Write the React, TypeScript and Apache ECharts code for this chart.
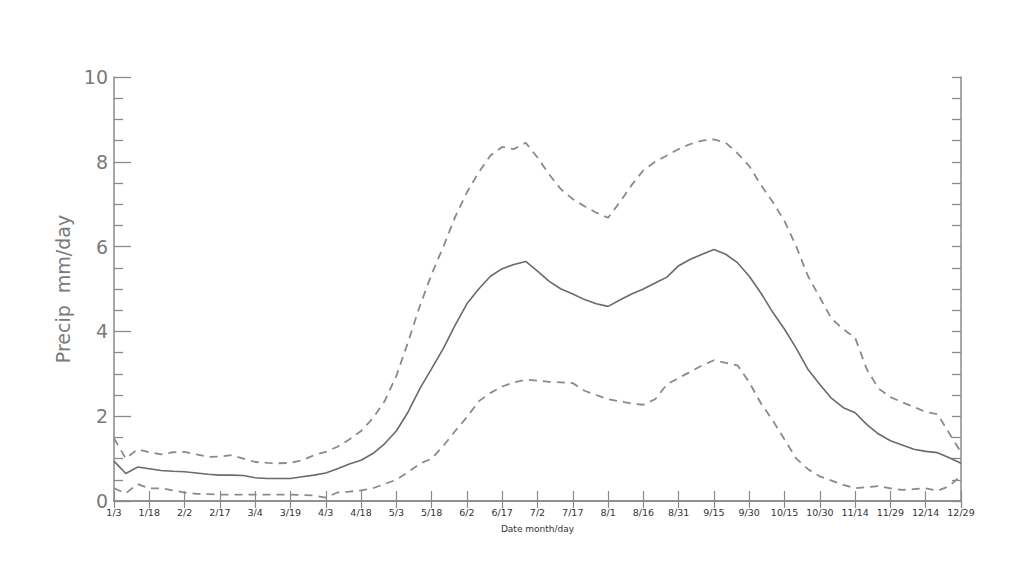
import React, { useEffect, useRef } from "react";
import * as echarts from "echarts";

// Tick labels (every 3rd pentad, pentad centre dates)
const tickLabels = [
  "1/3", "1/18", "2/2", "2/17", "3/4", "3/19", "4/3", "4/18", "5/3", "5/18",
  "6/2", "6/17", "7/2", "7/17", "8/1", "8/16", "8/31", "9/15", "9/30", "10/15",
  "10/30", "11/14", "11/29", "12/14", "12/29",
];

// Mean pentad precipitation (mm/day), 73 pentads
const meanPrecip = [
  0.94, 0.65, 0.8, 0.76, 0.72, 0.7, 0.69, 0.66, 0.63, 0.61,
  0.61, 0.6, 0.55, 0.53, 0.53, 0.53, 0.57, 0.61, 0.66, 0.76,
  0.87, 0.96, 1.12, 1.35, 1.65, 2.1, 2.65, 3.12, 3.6, 4.15,
  4.65, 5.0, 5.3, 5.48, 5.58, 5.65, 5.42, 5.18, 5.0, 4.88,
  4.75, 4.65, 4.59, 4.74, 4.88, 5.0, 5.14, 5.28, 5.55, 5.7,
  5.82, 5.93, 5.82, 5.62, 5.3, 4.9, 4.45, 4.05, 3.6, 3.1,
  2.75, 2.42, 2.2, 2.08, 1.8, 1.58, 1.42, 1.32, 1.22, 1.17,
  1.14, 1.02, 0.89,
];

// Upper bound (dashed)
const upperPrecip = [
  1.48, 1.0, 1.22, 1.15, 1.1, 1.15, 1.16, 1.1, 1.04, 1.05,
  1.08, 1.0, 0.92, 0.9, 0.89, 0.9, 0.96, 1.08, 1.16, 1.28,
  1.45, 1.65, 1.95, 2.35, 2.95, 3.75, 4.6, 5.35, 6.0, 6.7,
  7.28, 7.75, 8.15, 8.35, 8.3, 8.45, 8.1, 7.7, 7.35, 7.12,
  6.95, 6.8, 6.68, 7.05, 7.45, 7.8, 8.0, 8.15, 8.3, 8.42,
  8.5, 8.53, 8.45, 8.2, 7.9, 7.45, 7.05, 6.6, 6.0, 5.3,
  4.8, 4.3, 4.05, 3.85, 3.1, 2.65, 2.45, 2.33, 2.22, 2.1,
  2.05, 1.6, 1.15,
];

// Lower bound (dashed)
const lowerPrecip = [
  0.3, 0.18, 0.4, 0.3, 0.3, 0.25, 0.2, 0.17, 0.16, 0.15,
  0.15, 0.15, 0.15, 0.15, 0.15, 0.15, 0.14, 0.13, 0.08, 0.2,
  0.22, 0.25, 0.3, 0.4, 0.5, 0.68, 0.88, 1.0, 1.3, 1.65,
  1.98, 2.35, 2.55, 2.7, 2.8, 2.86, 2.84, 2.81, 2.8, 2.78,
  2.6, 2.5, 2.4, 2.35, 2.3, 2.27, 2.4, 2.75, 2.9, 3.05,
  3.2, 3.32, 3.26, 3.2, 2.8, 2.3, 1.9, 1.45, 1.0, 0.75,
  0.58, 0.48, 0.38, 0.3, 0.33, 0.35, 0.3, 0.26, 0.28, 0.3,
  0.24, 0.35, 0.6,
];

const pentads = meanPrecip.map((_, i) => "P" + (i + 1));

export default function App() {
  const ref = useRef<HTMLDivElement>(null);
  useEffect(() => {
    document.body.style.margin = "0";
    if (!ref.current) return;
    const chart = echarts.init(ref.current, undefined, { renderer: "svg" });
    const axisColor = "#8a8a8a";
    const labelFmt = (_v: string, idx: number) =>
      idx % 3 === 0 ? tickLabels[idx / 3] : "";
    chart.setOption({
      animation: false,
      backgroundColor: "#ffffff",
      grid: { left: 114, right: 63, top: 77, bottom: 75 },
      xAxis: [
        {
          type: "category",
          data: pentads,
          boundaryGap: false,
          position: "bottom",
          name: "Date month/day",
          nameLocation: "middle",
          nameGap: 23,
          nameTextStyle: { fontSize: 9, color: "#333", fontFamily: "DejaVu Sans" },
          axisLine: { lineStyle: { color: axisColor, width: 1.5 } },
          axisTick: { inside: true, length: 10, interval: 2, lineStyle: { color: axisColor, width: 1.2 } },
          axisLabel: {
            interval: 2,
            formatter: labelFmt,
            fontSize: 9.5,
            color: "#333",
            margin: 6,
            fontFamily: "DejaVu Sans",
          },
          splitLine: { show: false },
        },
        {
          type: "category",
          data: pentads,
          boundaryGap: false,
          position: "top",
          axisLine: { lineStyle: { color: axisColor, width: 1.5 } },
          axisTick: { inside: true, length: 7, interval: 2, lineStyle: { color: axisColor, width: 1.2 } },
          axisLabel: { show: false },
          splitLine: { show: false },
        },
      ],
      yAxis: [
        {
          type: "value",
          min: 0,
          max: 10,
          interval: 2,
          position: "left",
          name: "Precip  mm/day",
          nameLocation: "middle",
          nameGap: 40,
          nameTextStyle: { fontSize: 19, color: "#7a7a7a", fontFamily: "DejaVu Sans" },
          axisLine: { show: true, lineStyle: { color: axisColor, width: 1.5 } },
          axisTick: { show: true, inside: true, length: 17, lineStyle: { color: axisColor, width: 1.3 } },
          minorTick: { show: true, splitNumber: 4, length: 9, lineStyle: { color: axisColor, width: 1.3 } },
          axisLabel: { fontSize: 19, color: "#7a7a7a", margin: 6, fontFamily: "DejaVu Sans" },
          splitLine: { show: false },
        },
        {
          type: "value",
          min: 0,
          max: 10,
          interval: 0.5,
          position: "right",
          axisLine: { show: true, lineStyle: { color: axisColor, width: 1.5 } },
          axisTick: { show: true, inside: true, length: 9, lineStyle: { color: axisColor, width: 1.3 } },
          axisLabel: { show: false },
          splitLine: { show: false },
        },
      ],
      series: [
        {
          type: "line",
          data: upperPrecip,
          symbol: "none",
          lineStyle: { color: "#8a8a8a", width: 1.8, type: [8, 6] },
        },
        {
          type: "line",
          data: meanPrecip,
          symbol: "none",
          lineStyle: { color: "#6a6a6a", width: 1.6 },
        },
        {
          type: "line",
          data: lowerPrecip,
          symbol: "none",
          lineStyle: { color: "#8a8a8a", width: 1.8, type: [8, 6] },
        },
      ],
    });
    return () => chart.dispose();
  }, []);
  return <div ref={ref} style={{ width: 1024, height: 576 }} />;
}
